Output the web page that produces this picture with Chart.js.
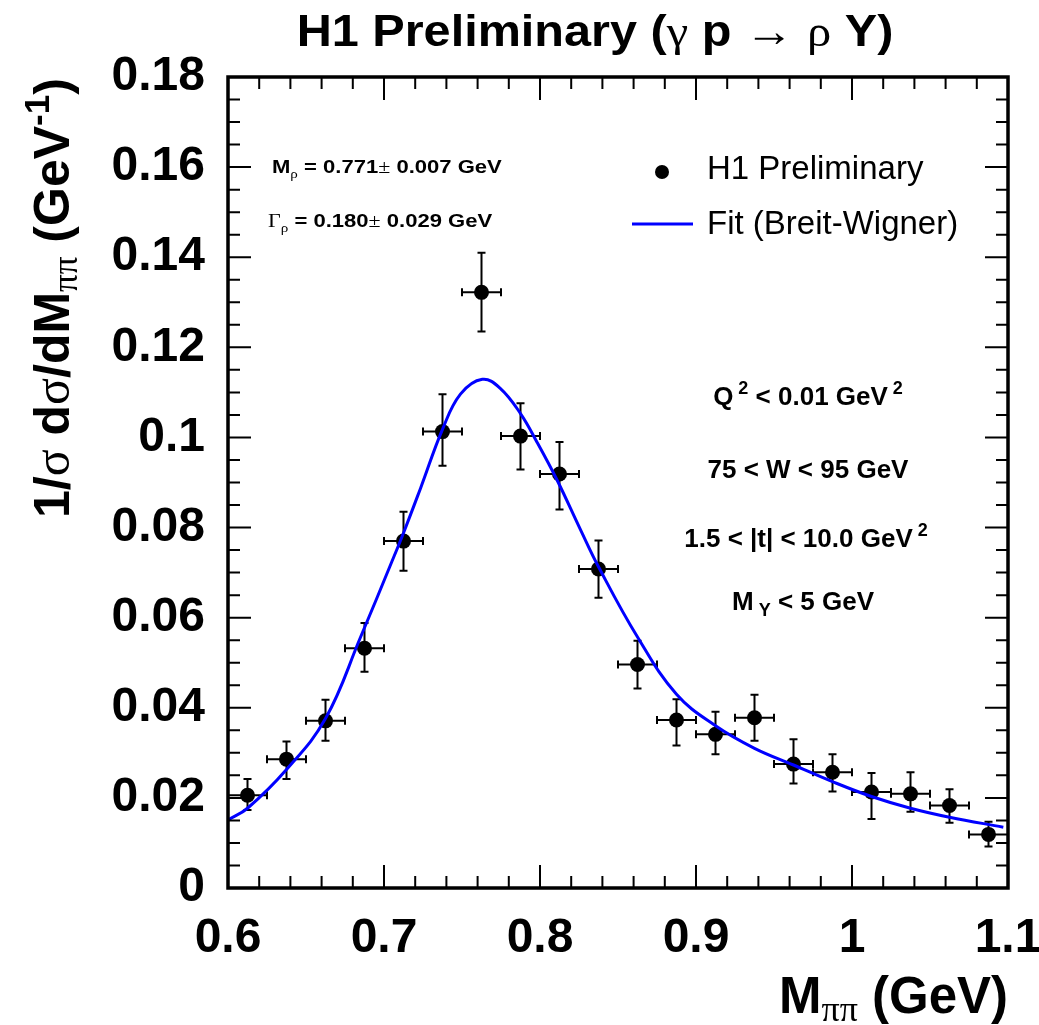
<!DOCTYPE html>
<html>
<head>
<meta charset="utf-8">
<script src="https://cdn.jsdelivr.net/npm/chart.js@4.4.0/dist/chart.umd.min.js"></script>
<style>
  html, body { margin: 0; padding: 0; background: #fff; }
</style>
</head>
<body>
<canvas id="grafico" width="1039" height="1025"></canvas>
<script>

// centro de cada bin en M_pipi (GeV)
const masa = [0.6125, 0.6375, 0.6625, 0.6875, 0.7125, 0.7375, 0.7625, 0.7875, 0.8125, 0.8375,
              0.8625, 0.8875, 0.9125, 0.9375, 0.9625, 0.9875, 1.0125, 1.0375, 1.0625, 1.0875];
// 1/sigma dsigma/dM
const valor = [0.0206, 0.0286, 0.0371, 0.0532, 0.0770, 0.1013, 0.1322, 0.1003, 0.0919, 0.0708,
               0.0496, 0.0373, 0.0341, 0.0378, 0.0275, 0.0257, 0.0213, 0.0209, 0.0183, 0.0119];
// extremos de las barras de error
const errArriba = [0.0242, 0.0325, 0.0418, 0.0588, 0.0835, 0.1096, 0.1410, 0.1076, 0.0990, 0.0771,
                   0.0549, 0.0419, 0.0391, 0.0429, 0.0330, 0.0297, 0.0255, 0.0257, 0.0219, 0.0147];
const errAbajo = [0.0173, 0.0242, 0.0327, 0.0480, 0.0704, 0.0937, 0.1235, 0.0929, 0.0840, 0.0644,
                  0.0443, 0.0316, 0.0297, 0.0327, 0.0232, 0.0214, 0.0153, 0.0169, 0.0145, 0.0092];
const medioBin = 0.0125;

const fitX = [0.600, 0.6125, 0.6375, 0.6625, 0.685, 0.705, 0.7125, 0.7235, 0.7375, 0.749, 0.763,
              0.7745, 0.7875, 0.798, 0.811, 0.826, 0.8375, 0.8625, 0.8875, 0.9125, 0.9375, 0.9625,
              0.9875, 1.0125, 1.0375, 1.0625, 1.097];
const fitY = [0.0151, 0.0177, 0.0263, 0.0376, 0.0557, 0.0724, 0.0788, 0.0888, 0.1018, 0.1096, 0.1129,
              0.1109, 0.1053, 0.0990, 0.0905, 0.0795, 0.0713, 0.0557, 0.0430, 0.0360, 0.0310, 0.0273,
              0.0236, 0.0203, 0.0177, 0.0157, 0.0135];

// etiquetas de los ejes
const ticksX = [0.6, 0.7, 0.8, 0.9, 1.0, 1.1];
const ticksY = [0, 0.02, 0.04, 0.06, 0.08, 0.1, 0.12, 0.14, 0.16, 0.18];

const SANS = '"Liberation Sans", Arial, Helvetica, sans-serif';
const SERIF = '"Liberation Serif", "DejaVu Serif", "Times New Roman", serif';

// dibuja texto con partes de distinta fuente (sub/superindices)
// estirar: ensancha un poco el texto como en el original
function textoMixto(c, partes, x, y, alinear, estirar) {
  const k = estirar || 1;
  let total = 0;
  partes.forEach(p => { c.font = p.f; total += c.measureText(p.t).width; });
  let xi = 0;
  if (alinear === 'center') xi = -total / 2;
  if (alinear === 'right') xi = -total;
  c.save();
  c.translate(x, y);
  c.scale(k, 1);
  partes.forEach(p => {
    c.font = p.f;
    c.fillText(p.t, xi, (p.dy || 0));
    xi += c.measureText(p.t).width;
  });
  c.restore();
}

const marco = {
  id: 'marco',
  beforeDatasetsDraw(chart) {
    const c = chart.ctx;
    const sx = chart.scales.x, sy = chart.scales.y;
    c.save();
    c.strokeStyle = '#000';
    c.lineWidth = 2;
    const cap = 4;
    masa.forEach((m, i) => {
      const px = sx.getPixelForValue(m);
      const py = sy.getPixelForValue(valor[i]);
      const y1 = sy.getPixelForValue(errArriba[i]);
      const y2 = sy.getPixelForValue(errAbajo[i]);
      const x1 = sx.getPixelForValue(m - medioBin);
      const x2 = sx.getPixelForValue(m + medioBin);
      c.beginPath();
      c.moveTo(px, y1); c.lineTo(px, y2);
      c.moveTo(px - cap, y1); c.lineTo(px + cap, y1);
      c.moveTo(px - cap, y2); c.lineTo(px + cap, y2);
      c.moveTo(x1, py); c.lineTo(x2, py);
      c.moveTo(x1, py - cap); c.lineTo(x1, py + cap);
      c.moveTo(x2, py - cap); c.lineTo(x2, py + cap);
      c.stroke();
    });
    c.restore();
  },
  afterDraw(chart) {
    const c = chart.ctx;
    const a = chart.chartArea;
    const sx = chart.scales.x, sy = chart.scales.y;
    c.save();
    c.strokeStyle = '#000';
    c.fillStyle = '#000';

    // marcas de los ejes hacia adentro, en los cuatro lados
    c.lineWidth = 2;
    c.beginPath();
    for (let k = 0; k <= 25; k++) {
      const px = sx.getPixelForValue(0.6 + k * 0.02);
      const largo = (k % 5 === 0) ? 23 : 12;
      c.moveTo(px, a.bottom); c.lineTo(px, a.bottom - largo);
      c.moveTo(px, a.top); c.lineTo(px, a.top + largo);
    }
    for (let k = 0; k <= 36; k++) {
      const py = sy.getPixelForValue(k * 0.005);
      const largo = (k % 4 === 0) ? 23 : 12;
      c.moveTo(a.left, py); c.lineTo(a.left + largo, py);
      c.moveTo(a.right, py); c.lineTo(a.right - largo, py);
    }
    c.stroke();

    // marco
    c.lineWidth = 3.5;
    c.strokeRect(a.left, a.top, a.right - a.left, a.bottom - a.top);

    c.textBaseline = 'alphabetic';

    // titulo
    const bt = 'bold 45px ' + SANS, gt = '45px ' + SERIF;
    textoMixto(c, [
      {t: 'H1 Preliminary (', f: bt}, {t: 'γ', f: gt}, {t: ' p ', f: bt},
      {t: '→', f: gt}, {t: ' ', f: bt}, {t: 'ρ', f: gt}, {t: ' Y)', f: bt}
    ], 595, 46, 'center', 1.08);

    // titulo eje x
    const bx = 'bold 51px ' + SANS;
    textoMixto(c, [
      {t: 'M', f: bx}, {t: 'ππ', f: '36px ' + SERIF, dy: 8}, {t: ' (GeV)', f: bx}
    ], 1008, 1013, 'right');

    // titulo eje y (rotado)
    c.save();
    c.translate(69, 518);
    c.rotate(-Math.PI / 2);
    const by = 'bold 50px ' + SANS, gy = '50px ' + SERIF;
    textoMixto(c, [
      {t: '1/', f: by}, {t: 'σ', f: gy}, {t: ' d', f: by}, {t: 'σ', f: gy}, {t: '/dM', f: by},
      {t: 'ππ', f: '35px ' + SERIF, dy: 8}, {t: ' (GeV', f: by},
      {t: '-1', f: 'bold 35px ' + SANS, dy: -20}, {t: ')', f: by}
    ], 0, 0, 'left');
    c.restore();

    // parametros del ajuste
    const bp = 'bold 19px ' + SANS, sp = '13px ' + SERIF;
    textoMixto(c, [
      {t: 'M', f: bp}, {t: 'ρ', f: sp, dy: 5}, {t: ' = 0.771', f: bp},
      {t: '±', f: '19px ' + SERIF}, {t: ' 0.007 GeV', f: bp}
    ], 272, 173, 'left', 1.16);
    textoMixto(c, [
      {t: 'Γ', f: '19px ' + SERIF}, {t: 'ρ', f: sp, dy: 5}, {t: ' = 0.180', f: bp},
      {t: '±', f: '19px ' + SERIF}, {t: ' 0.029 GeV', f: bp}
    ], 268, 227, 'left', 1.16);

    // cortes cinematicos
    const bc = 'bold 26px ' + SANS, sc = 'bold 18px ' + SANS;
    textoMixto(c, [
      {t: 'Q', f: bc}, {t: ' 2', f: sc, dy: -11}, {t: ' < 0.01 GeV', f: bc}, {t: ' 2', f: sc, dy: -11}
    ], 808, 405, 'center');
    textoMixto(c, [{t: '75 < W < 95 GeV', f: bc}], 808, 478, 'center');
    textoMixto(c, [
      {t: '1.5 < |t| < 10.0 GeV', f: bc}, {t: ' 2', f: sc, dy: -11}
    ], 806, 547, 'center');
    textoMixto(c, [
      {t: 'M', f: bc}, {t: ' Y', f: sc, dy: 6}, {t: ' < 5 GeV', f: bc}
    ], 803, 610, 'center');

    // leyenda
    c.beginPath();
    c.arc(662, 172, 7, 0, Math.PI * 2);
    c.fill();
    c.strokeStyle = '#0000ff';
    c.lineWidth = 3;
    c.beginPath();
    c.moveTo(632, 224); c.lineTo(693, 224);
    c.stroke();
    c.textBaseline = 'middle';
    c.font = '33px ' + SANS;
    c.fillText('H1 Preliminary', 707, 170);
    c.fillText('Fit (Breit-Wigner)', 707, 225);

    c.restore();
  }
};

const ctx = document.getElementById('grafico');
const grafico = new Chart(ctx, {
  type: 'scatter',
  data: {
    datasets: [
      {
        label: 'Fit (Breit-Wigner)',
        data: fitX.map((x, i) => ({x: x, y: fitY[i]})),
        showLine: true,
        borderColor: '#0000ff',
        borderWidth: 3,
        pointRadius: 0,
        tension: 0.4,
        order: 0
      },
      {
        label: 'H1 Preliminary',
        data: masa.map((x, i) => ({x: x, y: valor[i]})),
        backgroundColor: '#000',
        borderWidth: 0,
        pointRadius: 7.5,
        order: 1
      }
    ]
  },
  options: {
    responsive: false,
    animation: false,
    devicePixelRatio: 1,
    layout: { padding: { top: 77, right: 31, left: 0, bottom: 0 } },
    plugins: { legend: { display: false }, tooltip: { enabled: false } },
    scales: {
      x: {
        type: 'linear', min: 0.6, max: 1.1,
        afterBuildTicks: s => { s.ticks = ticksX.map(v => ({value: v})); },
        afterFit: s => { s.height = 137; s.paddingLeft = 0; s.paddingRight = 0; },
        grid: { display: false, drawTicks: false },
        border: { display: false },
        ticks: {
          color: '#000', padding: 22, maxRotation: 0, autoSkip: false,
          font: { family: SANS, size: 48, weight: 'bold' },
          callback: v => parseFloat(v.toFixed(1)).toString()
        }
      },
      y: {
        type: 'linear', min: 0, max: 0.18,
        afterBuildTicks: s => { s.ticks = ticksY.map(v => ({value: v})); },
        afterFit: s => { s.width = 228; s.paddingTop = 0; s.paddingBottom = 0; },
        grid: { display: false, drawTicks: false },
        border: { display: false },
        ticks: {
          color: '#000', padding: 23, autoSkip: false,
          font: { family: SANS, size: 48, weight: 'bold' },
          callback: v => parseFloat(v.toFixed(2)).toString()
        }
      }
    }
  },
  plugins: [marco]
});
</script>
</body>
</html>
